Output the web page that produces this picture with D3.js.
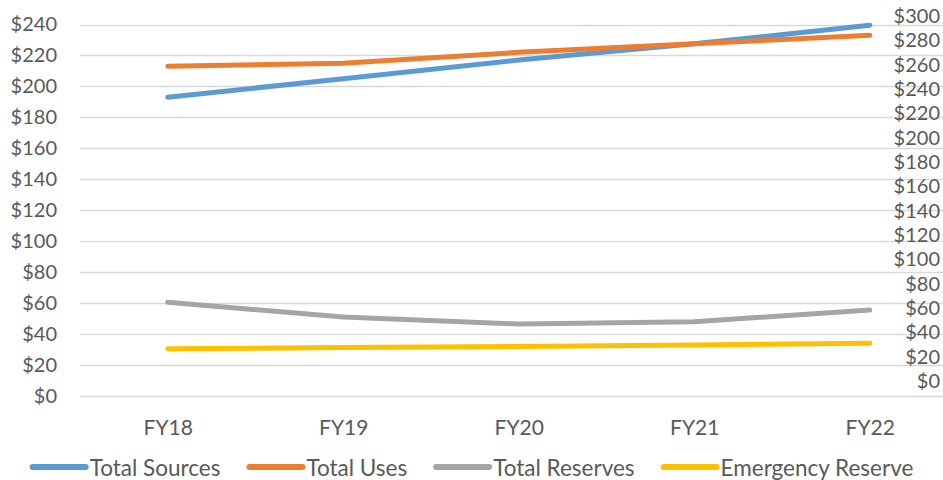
<!DOCTYPE html>
<html>
<head>
<meta charset="utf-8">
<script src="https://cdn.jsdelivr.net/npm/d3@7"></script>
<style>
  html, body { margin: 0; padding: 0; background: #fff; }
  svg { display: block; font-family: Lato, "Open Sans", sans-serif; }
</style>
</head>
<body>
<svg id="chart" width="943" height="480"></svg>
<script>
// Fiscal years on the category axis
const years = ["FY18", "FY19", "FY20", "FY21", "FY22"];

// Series values ($ millions)
const totalSources     = [193, 205, 217, 227.5, 239.5];
const totalUses        = [213, 215, 222, 227.5, 233];
const totalReserves    = [60.5, 51, 46.5, 48, 55.5];
const emergencyReserve = [30.5, 31.3, 32, 33, 34];

// Axis tick values
const leftTicks  = d3.range(0, 241, 20);
const rightTicks = d3.range(0, 301, 20);

const seriesNames  = ["Total Sources", "Total Uses", "Total Reserves", "Emergency Reserve"];
const seriesValues = [totalSources, totalUses, totalReserves, emergencyReserve];
const colors = ["#5B9BD5", "#ED7D31", "#A5A5A5", "#FFC000"];

const svg = d3.select("#chart");
const W = 943;

const x = d3.scalePoint().domain(years).range([80, 957.5]).padding(0.5);
const y = d3.scaleLinear().domain([0, 240]).range([396, 24.5]);
const y2 = d3.scaleLinear().domain([0, 300]).range([381, 16]);

const textColor = "#595959";
const fontFamily = "Lato, 'Open Sans', sans-serif";

function styleText(sel, size) {
  sel.attr("fill", textColor)
    .style("font-size", size + "px")
    .style("font-family", fontFamily);
}

// Horizontal gridlines
svg.append("g")
  .selectAll("line")
  .data(leftTicks)
  .join("line")
  .attr("x1", 80).attr("x2", W)
  .attr("y1", d => Math.round(y(d)) + 0.5)
  .attr("y2", d => Math.round(y(d)) + 0.5)
  .attr("stroke", "#D9D9D9")
  .attr("stroke-width", 1.3);

// Left axis
const leftAxis = svg.append("g")
  .attr("transform", "translate(63,0)")
  .call(d3.axisLeft(y).tickValues(leftTicks).tickFormat(d => "$" + d).tickSize(0).tickPadding(6));
leftAxis.select(".domain").remove();
styleText(leftAxis.selectAll("text"), 20);

// Right (secondary) axis
const rightAxis = svg.append("g")
  .attr("transform", "translate(940,0)")
  .call(d3.axisLeft(y2).tickValues(rightTicks).tickFormat(d => "$" + d).tickSize(0).tickPadding(0));
rightAxis.select(".domain").remove();
styleText(rightAxis.selectAll("text"), 20);

// Category axis labels
const bottomAxis = svg.append("g")
  .attr("transform", "translate(0,396)")
  .call(d3.axisBottom(x).tickSize(0).tickPadding(24));
bottomAxis.select(".domain").remove();
styleText(bottomAxis.selectAll("text"), 21);

// Series lines
const line = d3.line()
  .x((d, i) => x(years[i]))
  .y(d => y(d));

svg.append("g")
  .selectAll("path")
  .data(seriesValues)
  .join("path")
  .attr("d", d => line(d))
  .attr("fill", "none")
  .attr("stroke", (d, i) => colors[i])
  .attr("stroke-width", 5)
  .attr("stroke-linecap", "round")
  .attr("stroke-linejoin", "round");

// Legend
const legend = svg.append("g");
const legendY = 467;
const gapAfter = 26;
let cursor = 0;
legend.selectAll("g")
  .data(seriesNames)
  .join("g")
  .each(function (name, i) {
    const g = d3.select(this);
    g.append("line")
      .attr("x1", 3).attr("x2", 56)
      .attr("y1", legendY).attr("y2", legendY)
      .attr("stroke", colors[i])
      .attr("stroke-width", 6)
      .attr("stroke-linecap", "round");
    const t = g.append("text")
      .attr("x", 60)
      .attr("y", 476)
      .text(name);
    styleText(t, 22.5);
    const w = 60 + t.node().getComputedTextLength();
    g.attr("transform", `translate(${cursor},0)`);
    cursor += w + gapAfter;
  });
const legendWidth = cursor - gapAfter;
legend.attr("transform", `translate(${(W - legendWidth) / 2},0)`);
</script>
</body>
</html>
